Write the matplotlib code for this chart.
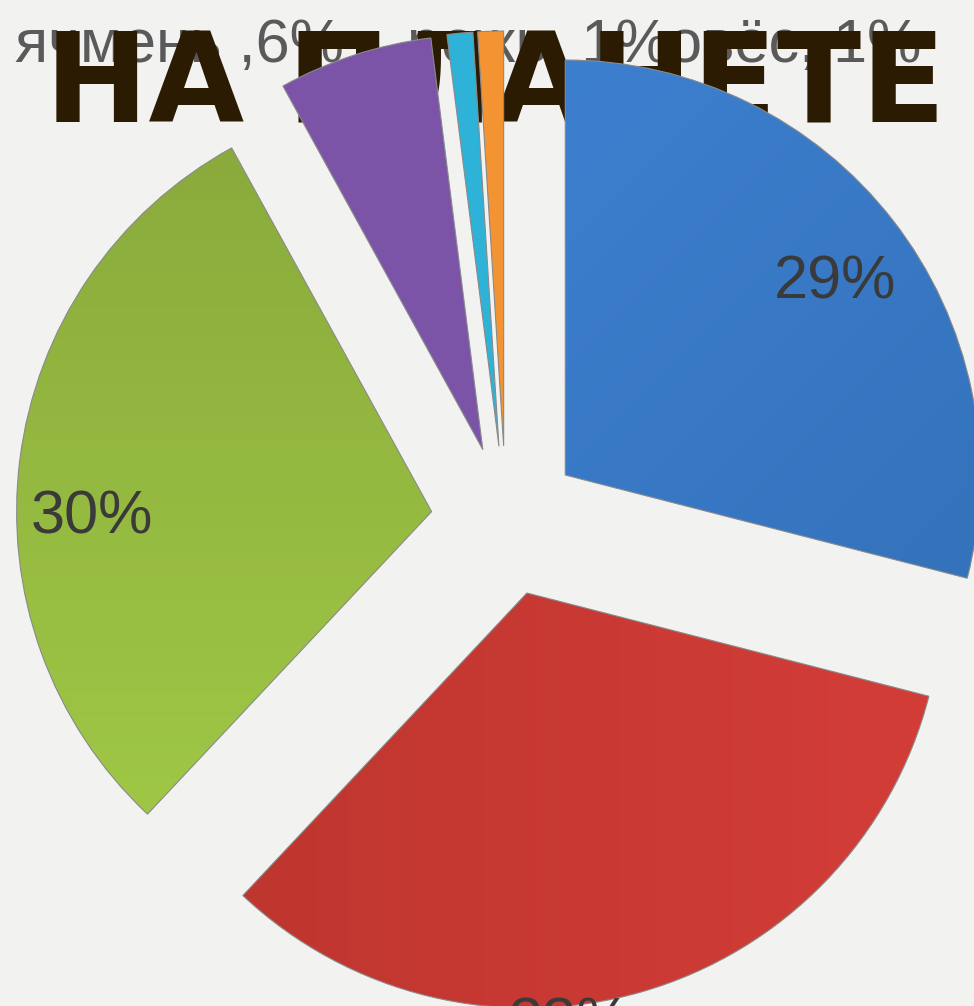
import matplotlib
matplotlib.use('Agg')
import numpy as np
import matplotlib.pyplot as plt
from matplotlib.colors import to_rgb

# crops and their share, clockwise from 12 o'clock
crops = ['пшеница', 'рис', 'кукуруза', 'ячмень', 'рожь', 'овёс']
shares = [29, 33, 30, 6, 1, 1]
colors = ['#3b7dcf', '#d13b36', '#9cc443', '#7b54a8', '#2fb2d8', '#f49331']

title = 'НА ПЛАНЕТЕ'
# small slices get "name, value" labels along the top
small = ['ячмень', 'рожь', 'овёс']
seps = [' ,', ', ', ', ']

# soft linear shading on the big slices: (start colour, end colour, direction)
shading = {
    0: ('#3d7fcf', '#3472bb', (0.7, -0.7)),
    1: ('#bf362f', '#d33d38', (1.0, 0.0)),
    2: ('#8aab3c', '#9fc745', (0.0, -1.0)),
}

plt.rcParams['font.family'] = ['Liberation Sans', 'DejaVu Sans']

fig = plt.figure(figsize=(9.74, 10.06), dpi=100)
fig.patch.set_facecolor('#f2f2f1')
ax = fig.add_axes([0, 0, 1, 1])
ax.set_facecolor('#f2f2f1')

def big_pct(p):
    return '{:.0f}%'.format(p) if p >= 10 else ''

wedges, texts, autotexts = ax.pie(
    shares, colors=colors, startangle=90, counterclock=False,
    center=(506, 485), radius=415, explode=[75] * len(shares),
    autopct=big_pct, pctdistance=0.8,
    wedgeprops=dict(edgecolor='#8a8a8a', linewidth=0.8, zorder=3),
    textprops=dict(fontsize=44, color='#3a3a3a', zorder=5))

for i, (c0, c1, (dx, dy)) in shading.items():
    w = wedges[i]
    ext = w.get_path().get_extents()
    gx = np.linspace(ext.x0, ext.x1, 80)
    gy = np.linspace(ext.y0, ext.y1, 80)
    X, Y = np.meshgrid(gx, gy)
    t = X * dx + Y * dy
    t = (t - t.min()) / (t.max() - t.min())
    a, b = np.array(to_rgb(c0)), np.array(to_rgb(c1))
    img = a + t[..., None] * (b - a)
    im = ax.imshow(img, extent=(ext.x0, ext.x1, ext.y0, ext.y1), origin='lower',
                   interpolation='bilinear', aspect='auto', zorder=2.9)
    im.set_clip_path(w)
    w.set_facecolor('none')

# nudge the percent labels where the chart had them
autotexts[0].set_position((835, 723))
autotexts[1].set_position((570, -19))
autotexts[2].set_position((92, 488))

# category labels for the thin slices
xs = [15, 407, 668]
for name, sep, x in zip(small, seps, xs):
    v = shares[crops.index(name)]
    ax.text(x, 944, '{}{}{}%'.format(name, sep, v), fontsize=44,
            color='#5a5a5a', ha='left', va='baseline', zorder=1)

ax.text(495, 884, title, fontsize=89, fontweight='bold', color='#2b1b02',
        family='DejaVu Sans', ha='center', va='baseline', zorder=2)

ax.set_xlim(0, 974)
ax.set_ylim(0, 1006)
ax.axis('off')

plt.savefig('out.png', dpi=100, facecolor=fig.get_facecolor())
